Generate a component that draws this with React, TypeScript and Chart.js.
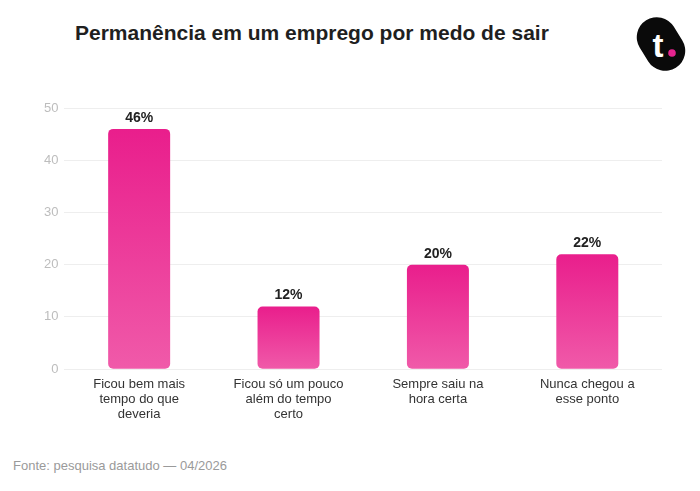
import React, { useEffect, useRef } from "react";
import { Chart, registerables } from "chart.js";

Chart.register(...registerables);

const categories: string[][] = [
  ["Ficou bem mais", "tempo do que", "deveria"],
  ["Ficou só um pouco", "além do tempo", "certo"],
  ["Sempre saiu na", "hora certa"],
  ["Nunca chegou a", "esse ponto"],
];
const values: number[] = [46, 12, 20, 22];
const valueLabels: string[] = ["46%", "12%", "20%", "22%"];
const yTicks: number[] = [0, 10, 20, 30, 40, 50];

const FONT = "'Liberation Sans', Arial, Helvetica, sans-serif";

const valueLabelPlugin = {
  id: "valueLabels",
  afterDatasetsDraw(chart: any) {
    const ctx = chart.ctx;
    const meta = chart.getDatasetMeta(0);
    ctx.save();
    ctx.font = `bold 14px ${FONT}`;
    ctx.fillStyle = "#222222";
    ctx.textAlign = "center";
    ctx.textBaseline = "bottom";
    meta.data.forEach((bar: any, i: number) => {
      ctx.fillText(valueLabels[i], bar.x, bar.y - 4);
    });
    ctx.restore();
  },
};

export default function App() {
  const ref = useRef<HTMLCanvasElement | null>(null);

  useEffect(() => {
    if (!ref.current) return;
    const chart = new Chart(ref.current, {
      type: "bar",
      data: {
        labels: categories,
        datasets: [
          {
            data: values,
            backgroundColor: (c: any) => {
              const ch = c.chart;
              const area = ch.chartArea;
              if (!area || c.type !== "data") return "#ec3b9a";
              const ys = ch.scales.y;
              const top = ys.getPixelForValue(c.parsed.y);
              const bottom = ys.getPixelForValue(0);
              const g = ch.ctx.createLinearGradient(0, top, 0, bottom);
              g.addColorStop(0, "#e91e8c");
              g.addColorStop(1, "#f05aa9");
              return g;
            },
            borderRadius: 5,
            borderSkipped: false,
            barPercentage: 0.415,
            categoryPercentage: 1,
          },
        ],
      },
      options: {
        responsive: false,
        animation: false,
        maintainAspectRatio: false,
        layout: { padding: { top: 108, left: 38, right: 38, bottom: 0 } },
        plugins: {
          legend: { display: false },
          tooltip: { enabled: false },
          title: { display: false },
        },
        scales: {
          x: {
            grid: { display: false },
            border: { display: false },
            ticks: {
              color: "#333333",
              font: { family: FONT, size: 13, lineHeight: 1.15 },
              padding: 0,
              maxRotation: 0,
              autoSkip: false,
            },
          },
          y: {
            min: 0,
            max: 50,
            afterBuildTicks: (axis: any) => {
              axis.ticks = yTicks.map((v) => ({ value: v }));
            },
            grid: { color: "#eeeeee", drawTicks: false, lineWidth: 1 },
            border: { display: false },
            ticks: {
              color: "#bdbdbd",
              font: { family: FONT, size: 13 },
              padding: 6,
            },
          },
        },
      },
      plugins: [valueLabelPlugin],
    });
    return () => chart.destroy();
  }, []);

  return (
    <div
      style={{
        position: "fixed",
        left: 0,
        top: 0,
        width: 700,
        height: 491,
        background: "#ffffff",
        overflow: "hidden",
      }}
    >
      <div
        style={{
          position: "absolute",
          left: 75,
          top: 21,
          fontFamily: FONT,
          fontWeight: "bold",
          fontSize: 21,
          color: "#1f1f1f",
          whiteSpace: "nowrap",
        }}
      >
        Permanência em um emprego por medo de sair
      </div>
      <svg
        style={{ position: "absolute", left: 630, top: 12 }}
        width={64}
        height={64}
        viewBox="0 0 64 64"
      >
        <g transform="rotate(-32 31 32)">
          <rect x={11} y={4} width={40} height={56} rx={20} ry={20} fill="#0a0a0a" />
        </g>
        <text
          x={28}
          y={45}
          textAnchor="middle"
          fontFamily={FONT}
          fontWeight="bold"
          fontSize={33}
          fill="#ffffff"
        >
          t
        </text>
        <circle cx={42} cy={41} r={3.8} fill="#e6248f" />
      </svg>
      <canvas
        ref={ref}
        width={700}
        height={422}
        style={{ position: "absolute", left: 0, top: 0, width: 700, height: 422 }}
      />
      <div
        style={{
          position: "absolute",
          left: 13,
          top: 458,
          fontFamily: FONT,
          fontSize: 13,
          color: "#9a9a9a",
          whiteSpace: "nowrap",
        }}
      >
        Fonte: pesquisa datatudo — 04/2026
      </div>
    </div>
  );
}
